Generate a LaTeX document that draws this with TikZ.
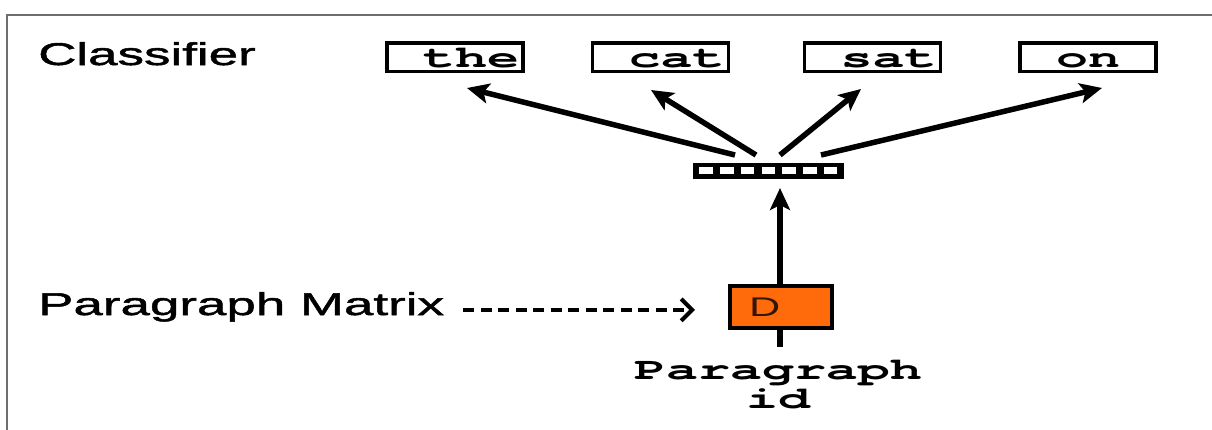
\documentclass[tikz,border=0pt]{standalone}
\usepackage{fontspec}
\usetikzlibrary{arrows.meta,calc}
% Horizontally widened faces for the labels and the word boxes
\newfontfamily\sansf[FakeStretch=1.68,FakeBold=1.6]{Liberation Sans}
\newfontfamily\dfont[FakeStretch=1.6]{Liberation Sans}
\newfontfamily\monof[FakeStretch=1.72]{TeX Gyre Cursor}
\definecolor{framegray}{HTML}{6E6E6E}
\definecolor{dorange}{HTML}{FF6A0A}
\definecolor{dtext}{HTML}{341600}

\begin{document}
\begin{tikzpicture}[x=1pt,y=-1pt,
  sidelabel/.style={font=\sansf\fontsize{31.5}{36}\selectfont, inner sep=0pt, anchor=base west},
  wordbox/.style={draw=black, line width=3.5pt, fill=white,
    font=\monof\bfseries\fontsize{31}{30}\selectfont,
    text width=128pt, inner xsep=4pt, inner ysep=0pt, text height=24pt, text depth=4.5pt},
  vecbar/.style={fill=black, inner sep=0pt, minimum width=151pt, minimum height=16pt},
  dbox/.style={draw=black, line width=4pt, fill=dorange, text=dtext,
    font=\dfont\fontsize{27}{28}\selectfont, minimum width=102pt, minimum height=42pt,
    text width=64pt, inner xsep=19pt, align=left},
  idtext/.style={font=\monof\bfseries\fontsize{31}{29}\selectfont, inner sep=0pt, align=center},
  outarrow/.style={line width=5.5pt, -{Stealth[length=22pt,width=20pt,inset=5pt]}},
  dasharrow/.style={line width=4pt, dash pattern=on 11pt off 6.5pt,
    -{Straight Barb[length=11pt,width=22pt]}}
]
\useasboundingbox (0,0) rectangle (1212,429);

% frame along the top and left
\draw[framegray, line width=2pt] (7,440) -- (7,15) -- (1220,15);

% side labels
\node[sidelabel] (clf) at (38,65) {Classifier};
\node[sidelabel] (pmat) at (38,315) {Paragraph Matrix};

% predicted words
\node[wordbox, align=right] (the) at (455,57.25) {the};
\node[wordbox, align=right] (cat) at (660.5,57.25) {cat};
\node[wordbox, align=right] (sat) at (872.5,57.25) {sat};
\node[wordbox, align=center] (on) at (1088,57.25) {on};

% paragraph vector with its seven cells
\node[vecbar] (vec) at (768.5,170.5) {};
\foreach \i in {0,...,6}
  \fill[white] ($(vec.north west)+(6.5+\i*20.75,5)$) rectangle ++(13.5,7);

% arrow ends
\coordinate (s1) at (735,155);
\coordinate (s2) at (756,155);
\coordinate (s3) at (780,155);
\coordinate (s4) at (821,155);
\coordinate (e1) at (467,88);
\coordinate (e2) at (651,90);
\coordinate (e3) at (861,89);
\coordinate (e4) at (1102,88);
\coordinate (vbase) at (780,347);
\coordinate (vtip) at (780,188);

\draw[outarrow] (s1) -- (e1);
\draw[outarrow] (s2) -- (e2);
\draw[outarrow] (s3) -- (e3);
\draw[outarrow] (s4) -- (e4);
\draw[outarrow] (vbase) -- (vtip);

% paragraph token and its lookup
\node[dbox] (D) at (781,307) {D};
\draw[dasharrow, shorten <=19pt, shorten >=33pt]
  ([yshift=-3pt]pmat.east) -- ([yshift=-3pt]pmat.east -| D.west);

\node[idtext, anchor=north] (pid) at (778,360) {Paragraph\\id};
\end{tikzpicture}
\end{document}
